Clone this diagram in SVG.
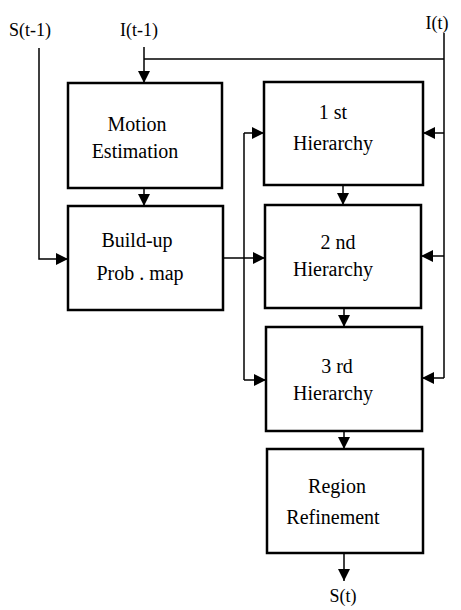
<svg xmlns="http://www.w3.org/2000/svg" width="461" height="610" viewBox="0 0 461 610">
<style>
.box{fill:#fff;stroke:#000;stroke-width:2.5}
.t{font-family:"Liberation Serif",serif;font-size:20px;fill:#000;text-anchor:middle}
.lbl{font-family:"Liberation Serif",serif;font-size:18px;fill:#000;text-anchor:middle}
.c{fill:none;stroke:#000;stroke-width:1.5}
.a{marker-end:url(#ah)}
</style>
<defs>
<marker id="ah" markerUnits="userSpaceOnUse" markerWidth="13" markerHeight="12" refX="12" refY="6" orient="auto">
<path d="M0,0 L12,6 L0,12 z" fill="#000"/>
</marker>
</defs>
<g id="labels">
<text class="lbl" x="30" y="36">S(t-1)</text>
<text class="lbl" x="139" y="36">I(t-1)</text>
<text class="lbl" x="437" y="29">I(t)</text>
<text class="lbl" x="343" y="602">S(t)</text>
</g>
<g id="connectors">
<polyline class="c a" points="39,48 39,259 68,259"/>
<polyline class="c a" points="144,47 144,83"/>
<polyline class="c" points="144,59 444,59"/>
<polyline class="c" points="444,33 444,378"/>
<polyline class="c a" points="444,133 423,133"/>
<polyline class="c a" points="444,256 421,256"/>
<polyline class="c a" points="444,378 422,378"/>
<polyline class="c a" points="144,188 144,206"/>
<polyline class="c a" points="223,258 265,258"/>
<polyline class="c" points="244,133 244,380"/>
<polyline class="c a" points="244,133 264,133"/>
<polyline class="c a" points="244,380 266,380"/>
<polyline class="c a" points="343,185 343,205"/>
<polyline class="c a" points="344,308 344,327"/>
<polyline class="c a" points="344,431 344,449"/>
<polyline class="c a" points="344,553 344,581"/>
</g>
<g id="motion">
<rect class="box" x="68" y="83" width="154" height="105"/>
<text class="t" x="137" y="131">Motion</text>
<text class="t" x="135" y="158">Estimation</text>
</g>
<g id="buildup">
<rect class="box" x="68" y="206" width="155" height="104"/>
<text class="t" x="137" y="247">Build-up</text>
<text class="t" x="140" y="280">Prob . map</text>
</g>
<g id="h1">
<rect class="box" x="264" y="82" width="159" height="103"/>
<text class="t" x="333" y="119">1 st</text>
<text class="t" x="333" y="150">Hierarchy</text>
</g>
<g id="h2">
<rect class="box" x="265" y="205" width="156" height="103"/>
<text class="t" x="338" y="249">2 nd</text>
<text class="t" x="333" y="276">Hierarchy</text>
</g>
<g id="h3">
<rect class="box" x="266" y="327" width="156" height="104"/>
<text class="t" x="337" y="373">3 rd</text>
<text class="t" x="333" y="400">Hierarchy</text>
</g>
<g id="region">
<rect class="box" x="267" y="449" width="156" height="104"/>
<text class="t" x="337" y="493">Region</text>
<text class="t" x="333" y="524">Refinement</text>
</g>
</svg>
